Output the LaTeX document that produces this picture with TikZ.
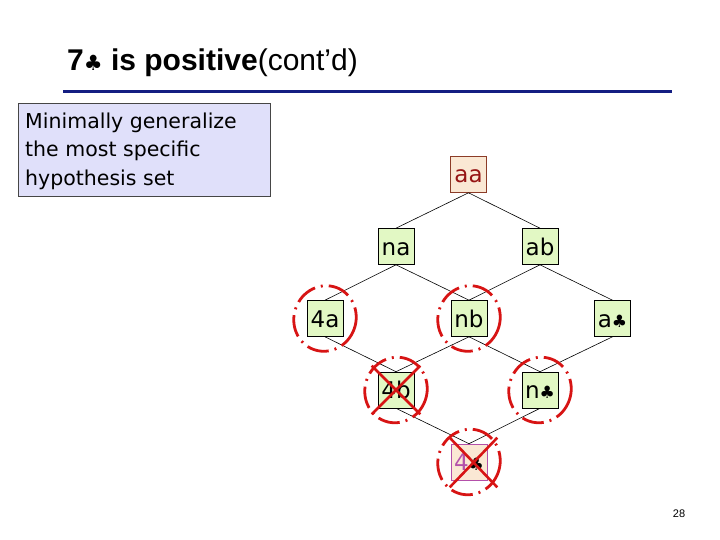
\documentclass[tikz,border=0pt]{standalone}
\usepackage{fontspec}
\setmainfont{Liberation Sans}
\newfontfamily\verd{DejaVu Sans}
\definecolor{navyrule}{RGB}{20,30,130}
\definecolor{boxfill}{RGB}{224,224,250}
\definecolor{boxdraw}{RGB}{70,70,70}
\definecolor{greenfill}{RGB}{226,248,196}
\definecolor{peachfill}{RGB}{250,232,212}
\definecolor{peachdraw}{RGB}{140,60,40}
\definecolor{darkredtext}{RGB}{150,20,20}
\definecolor{purp}{RGB}{180,80,170}
\definecolor{xred}{RGB}{215,20,20}
\tikzset{
  hyp/.style={draw=black, fill=greenfill, line width=0.6pt, minimum width=36pt, minimum height=36pt, inner sep=0pt, text height=17pt, text depth=0pt, font=\verd\fontsize{23}{24}\selectfont},
  edge/.style={line width=0.6pt, black},
  ring/.style={draw=xred, line width=2.8pt, dash pattern=on 22pt off 6pt on 2pt off 6pt},
  cross/.style={draw=xred, line width=2.6pt},
}
\newcommand{\clb}{{\verd\fontsize{17}{17}\selectfont ♣}}
\begin{document}
\begin{tikzpicture}[x=1pt,y=-1pt]
\useasboundingbox (0,0) rectangle (720,540);
% title
\node[anchor=base west, inner sep=0pt, font=\fontsize{30}{34}\selectfont] (title) at (67,71)
  {\textbf{7{\verd\fontsize{21}{21}\selectfont\bfseries ♣} is positive}(cont’d)};
\coordinate (rl) at (63,92);
\coordinate (rr) at (672,92);
\draw[navyrule, line width=3pt] (rl) -- (rr);
% text box
\node[draw=boxdraw, fill=boxfill, line width=0.8pt, anchor=north west, minimum width=252pt, minimum height=93pt, inner sep=0pt] (tb) at (18,103) {};
\node[anchor=base west, align=left, inner sep=0pt, font=\verd\fontsize{20.5}{29}\selectfont] (tbt) at (25,186)
  {Minimally generalize\\the most specific\\hypothesis set};
% nodes
\node[hyp, fill=peachfill, draw=peachdraw, text=darkredtext] (aa) at (468.5,174.5) {aa};
\node[hyp] (na) at (396,246.5) {na};
\node[hyp] (ab) at (540,246.5) {ab};
\node[hyp] (4a) at (325,318.5) {4a};
\node[hyp] (nb) at (469,318.5) {nb};
\node[hyp] (ac) at (612.5,318.5) {a\clb};
\node[hyp] (4b) at (396,390) {4b};
\node[hyp] (nc) at (540,390) {n\clb};
\node[hyp, fill=peachfill, draw=purp, text=purp] (4c) at (469,462) {4{\color{black}\clb}};
% edges
\draw[edge] (aa.south) -- (na.north);
\draw[edge] (aa.south) -- (ab.north);
\draw[edge] (na.south) -- (4a.north);
\draw[edge] (na.south) -- (nb.north);
\draw[edge] (ab.south) -- (nb.north);
\draw[edge] (ab.south) -- (ac.north);
\draw[edge] (4a.south) -- (4b.north);
\draw[edge] (nb.south) -- (4b.north);
\draw[edge] (nb.south) -- (nc.north);
\draw[edge] (ac.south) -- (nc.north);
\draw[edge] (4b.south) -- (4c.north);
\draw[edge] (nc.south) -- (4c.north);
% rings
\foreach \n in {4a,nb,4b,nc,4c}{
  \draw[ring, rotate around={-20:(\n.center)}] (\n.center) ellipse [x radius=31pt, y radius=33pt];
}
% crosses
\draw[cross] ([shift={(-6,-6)}]4b.north west) -- ([shift={(6,6)}]4b.south east);
\draw[cross] ([shift={(6,-6)}]4b.north east) -- ([shift={(-6,6)}]4b.south west);
\draw[cross] ([shift={(-1,-6)}]4c.north west) -- ([shift={(10,7)}]4c.south east);
\draw[cross] ([shift={(10,-6)}]4c.north east) -- ([shift={(-1,7)}]4c.south west);
% page number
\node[anchor=base, inner sep=0pt, font=\fontsize{11}{12}\selectfont] (pg) at (679,517) {28};
\end{tikzpicture}
\end{document}
